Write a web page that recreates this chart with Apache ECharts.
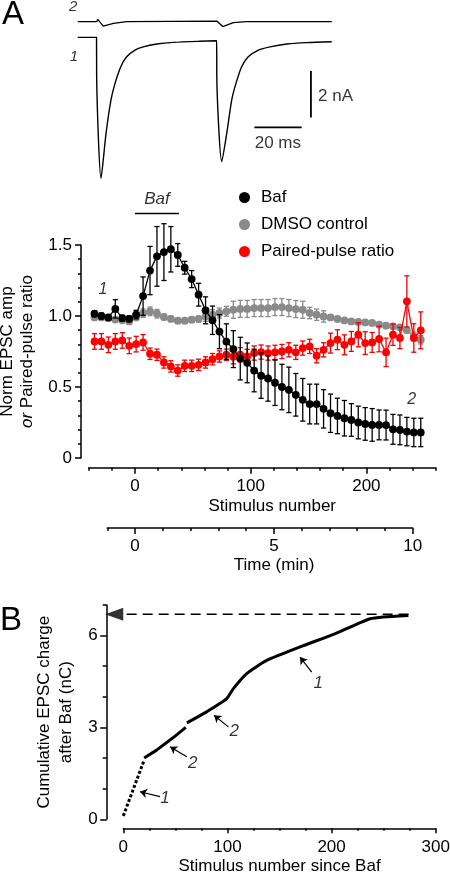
<!DOCTYPE html>
<html><head><meta charset="utf-8">
<script src="https://cdn.jsdelivr.net/npm/echarts@6/dist/echarts.min.js"></script>
<style>html,body{margin:0;padding:0;background:#fff}#c{width:450px;height:876px}</style>
</head><body><div id="c"></div>
<script>
// ---------- Panel A (middle): binned time course ----------
const stimulus = [-35,-29,-23,-17,-11,-5,1,7,13,19,25,31,37,43,49,55,61,67,73,79,85,91,97,103,109,115,121,127,133,139,145,151,157,163,169,175,181,187,193,199,205,211,217,223,229,235,241,247];
const bafMean = [1.016,1.00,0.99,1.05,0.985,0.98,1.01,1.14,1.32,1.42,1.45,1.47,1.43,1.34,1.26,1.15,1.04,0.97,0.89,0.82,0.767,0.70,0.67,0.616,0.58,0.56,0.53,0.50,0.48,0.445,0.41,0.38,0.38,0.346,0.315,0.296,0.28,0.268,0.25,0.24,0.233,0.233,0.232,0.202,0.198,0.186,0.18,0.18];
const bafErr = [0.02,0.02,0.02,0.065,0.02,0.02,0.03,0.135,0.17,0.21,0.2,0.16,0.08,0.045,0.06,0.08,0.095,0.1,0.12,0.125,0.13,0.15,0.14,0.15,0.16,0.16,0.16,0.16,0.16,0.15,0.15,0.14,0.14,0.135,0.135,0.125,0.125,0.115,0.115,0.115,0.115,0.105,0.105,0.105,0.105,0.1,0.1,0.1];
const dmsoMean = [0.99,0.99,0.985,0.975,0.97,0.962,0.99,1.02,1.033,1.016,0.993,0.98,0.967,0.967,0.974,0.979,0.997,1.009,1.021,1.033,1.044,1.05,1.05,1.056,1.056,1.056,1.063,1.063,1.056,1.049,1.044,1.021,1.009,0.997,0.99,0.979,0.969,0.962,0.958,0.955,0.951,0.939,0.932,0.927,0.92,0.90,0.856,0.833];
const dmsoErr = [0.015,0.015,0.015,0.015,0.015,0.015,0.015,0.03,0.03,0.03,0.02,0.02,0.02,0.02,0.02,0.02,0.035,0.035,0.035,0.035,0.06,0.06,0.06,0.06,0.06,0.06,0.06,0.06,0.06,0.06,0.06,0.04,0.04,0.04,0.015,0.015,0.015,0.015,0.015,0.015,0.015,0.015,0.015,0.015,0.015,0.015,0.03,0.03];
const pprMean = [0.821,0.821,0.797,0.821,0.828,0.79,0.802,0.814,0.734,0.727,0.673,0.645,0.616,0.649,0.649,0.656,0.673,0.696,0.715,0.727,0.713,0.727,0.715,0.739,0.746,0.739,0.744,0.75,0.762,0.744,0.774,0.786,0.72,0.762,0.809,0.833,0.797,0.821,0.868,0.809,0.814,0.838,0.744,0.868,0.845,1.103,0.845,0.899];
const pprErr = [0.055,0.055,0.055,0.055,0.055,0.055,0.055,0.055,0.04,0.04,0.04,0.04,0.04,0.04,0.04,0.04,0.04,0.04,0.04,0.04,0.05,0.05,0.05,0.05,0.05,0.05,0.05,0.05,0.05,0.05,0.05,0.05,0.05,0.05,0.07,0.07,0.07,0.07,0.085,0.08,0.07,0.09,0.1,0.075,0.075,0.18,0.1,0.13];
const legendNames = ['Baf','DMSO control','Paired-pulse ratio'];
const stimTicks = [0,100,200];
const timeTicks = [0,5,10];
const bafBar = [0,38];          // stimulus range of Baf application

// ---------- Panel A (top): example EPSC traces ----------
const traceT1 = [0,7.95,8.0,9.85,11.97,14.08,15.77,18.2,20.7,24.2,27.7,33.4,40.4,51.7,58.75,58.8,60.9,63.0,65.1,66.9,69.3,72.1,76.4,81.3,88.4,96.8,107.4];
const traceI1 = [0,0,-1.67,-6.09,-4.15,-2.69,-1.99,-1.27,-0.84,-0.55,-0.41,-0.29,-0.22,-0.17,-0.15,-1.70,-5.37,-4.15,-2.71,-1.99,-1.27,-0.84,-0.55,-0.41,-0.29,-0.23,-0.19];
const traceT2 = [0,8.0,8.45,10.8,15.1,20.7,58.8,59.0,61.3,65.8,71.4,107.4];
const traceI2 = [0,0,0.1,-0.19,-0.07,0,0.03,0.1,-0.21,-0.04,0,0];
const trace2Offset = 0.674;     // display offset of trace 2 (nA)
const scaleBarT = 98.6, scaleBarI = [-1.46,-3.46];   // 2 nA
const scaleBarTime = [74.7,94.7], scaleBarY = -3.89;  // 20 ms

// ---------- Panel B: cumulative charge ----------
const cumDottedX = [0,20];
const cumDottedY = [0.11,1.93];
const cumSeg1X = [20,32,48,60];
const cumSeg1Y = [2.0,2.26,2.67,3.0];
const cumSeg2X = [61,80,99,105.7,118.5,137.7,169.7,201.7,217.8,237,249.8,273.8];
const cumSeg2Y = [3.15,3.51,3.93,4.27,4.76,5.19,5.63,6.04,6.28,6.55,6.61,6.66];
const totalCharge = 6.7;
const totalArrowX = [274,-1];     // dashed arrow from curve end to y-axis
const arrowTails = [[35.3,0.74],[60.9,2.04],[100.9,3.02],[181,4.81]];
const arrowTips  = [[16,0.9],[44.9,2.37],[87.1,3.4],[169.7,5.3]];
const arrowLabels = ['1','2','2','1'];
const arrowLabelPos = [[40,0.68],[66.7,1.83],[106.6,2.86],[187.3,4.43]];

const FONT = '"Liberation Sans", Arial, sans-serif';
const FS = 17;
const BLACK = '#000', GRAY = '#8a8a8a', RED = '#ff0000';
const tickStyle = {color:BLACK, width:1.5};
const txt = {fontFamily:FONT, fontSize:FS, color:BLACK};

function zip(a,b){ return a.map((v,i)=>[v,b[i]]); }

function errSeries(name, means, errs, color, z){
  return {
    type:'custom', name, xAxisIndex:0, yAxisIndex:0, z, silent:true, clip:false,
    encode:{x:0,y:1},
    data: stimulus.map((s,i)=>[s, means[i], errs[i]]),
    renderItem(params, api){
      const x=api.value(0), y=api.value(1), e=api.value(2);
      const t=api.coord([x,y+e]), b=api.coord([x,y-e]);
      const hw=2.6, st={stroke:color, lineWidth:1.3};
      return {type:'group', children:[
        {type:'line', shape:{x1:t[0],y1:t[1],x2:b[0],y2:b[1]}, style:st},
        {type:'line', shape:{x1:t[0]-hw,y1:t[1],x2:t[0]+hw,y2:t[1]}, style:st},
        {type:'line', shape:{x1:b[0]-hw,y1:b[1],x2:b[0]+hw,y2:b[1]}, style:st}
      ]};
    }
  };
}
function meanSeries(name, means, color, z){
  return {type:'line', name, xAxisIndex:0, yAxisIndex:0, z,
    data: zip(stimulus, means), symbol:'circle', symbolSize:7.8,
    itemStyle:{color}, lineStyle:{color, width:1.3}, clip:false, silent:true};
}
function textSeries(xi, yi, items, style){
  return {type:'scatter', xAxisIndex:xi, yAxisIndex:yi, symbolSize:1, clip:false, silent:true,
    itemStyle:{color:'rgba(0,0,0,0)'},
    data: items.map(it=>({value:it.pos, label:Object.assign({show:true, position:'inside', formatter:it.text}, txt, style||{}, it.style||{})})),
    z:10};
}
const noBounds = {containLabel:false, outerBoundsMode:'none'};

const chart = echarts.init(document.getElementById('c'), null, {renderer:'canvas'});
const option = {
  animation:false,
  backgroundColor:'#fff',
  textStyle:{fontFamily:FONT},
  grid:[
    Object.assign({left:88.7, top:245, width:347.1, height:213}, noBounds),
    Object.assign({left:107.3, top:500, width:305.4, height:28}, noBounds),
    Object.assign({left:123.3, top:605, width:312.4, height:214.3}, noBounds),
    Object.assign({left:65.9, top:2.6, width:272, height:185.2}, noBounds)
  ],
  legend:{data:legendNames, orient:'vertical', left:239, top:189, icon:'circle',
    itemWidth:11, itemHeight:11, itemGap:10, padding:0,
    textStyle:Object.assign({}, txt, {padding:[0,0,0,6]})},
  xAxis:[
    {type:'value', gridIndex:0, min:-40, max:260, interval:20, position:'bottom', offset:9.7,
     axisLine:{onZero:false, lineStyle:tickStyle}, axisTick:{length:3, lineStyle:tickStyle}, axisLabel:{show:false}, splitLine:{show:false}},
    {type:'value', gridIndex:0, min:-40, max:260, position:'bottom', offset:9.7,
     axisLine:{show:false, onZero:false}, axisTick:{customValues:stimTicks, length:6, lineStyle:tickStyle},
     axisLabel:Object.assign({customValues:stimTicks, margin:10}, txt), splitLine:{show:false},
     name:'Stimulus number', nameLocation:'middle', nameGap:30, nameTextStyle:Object.assign({padding:[0,0,0,20]}, txt)},
    {type:'value', gridIndex:1, min:-1, max:10, interval:1, position:'bottom',
     axisLine:{onZero:false, lineStyle:tickStyle}, axisTick:{length:3, lineStyle:tickStyle}, axisLabel:{show:false}, splitLine:{show:false}},
    {type:'value', gridIndex:1, min:-1, max:10, position:'bottom',
     axisLine:{show:false, onZero:false}, axisTick:{customValues:timeTicks, length:6, lineStyle:tickStyle},
     axisLabel:Object.assign({customValues:timeTicks, margin:10}, txt), splitLine:{show:false},
     name:'Time (min)', nameLocation:'middle', nameGap:29, nameTextStyle:Object.assign({padding:[0,0,0,28]}, txt)},
    {type:'value', gridIndex:2, min:0, max:300, interval:100, position:'bottom', offset:9,
     axisLine:{onZero:false, lineStyle:tickStyle}, axisTick:{length:5, lineStyle:tickStyle},
     minorTick:{show:true, splitNumber:4, length:2.5, lineStyle:tickStyle},
     axisLabel:Object.assign({margin:11}, txt), splitLine:{show:false},
     name:'Stimulus number since Baf', nameLocation:'middle', nameGap:30, nameTextStyle:txt},
    {type:'value', gridIndex:3, min:-5, max:110, show:false}
  ],
  yAxis:[
    {type:'value', gridIndex:0, min:0, max:1.5, interval:0.5, position:'left', offset:7.7,
     axisLine:{show:true, onZero:false, lineStyle:tickStyle}, axisTick:{show:true, length:6, lineStyle:tickStyle},
     minorTick:{show:true, splitNumber:5, length:3, lineStyle:tickStyle},
     axisLabel:Object.assign({margin:9, formatter:v=>v===0?'0':v.toFixed(1)}, txt), splitLine:{show:false},
     name:'Norm EPSC amp\n{i|or} Paired-pulse ratio', nameLocation:'middle', nameGap:39,
     nameTextStyle:Object.assign({lineHeight:20, rich:{i:Object.assign({fontStyle:'italic', lineHeight:20}, txt)}}, txt)},
    {type:'value', gridIndex:1, min:0, max:1, show:false},
    {type:'value', gridIndex:2, min:0, max:7, interval:1, position:'left', offset:16.6,
     axisLine:{show:true, onZero:false, lineStyle:tickStyle}, axisTick:{show:true, length:4, lineStyle:tickStyle},
     axisLabel:{show:false}, splitLine:{show:false}},
    {type:'value', gridIndex:2, min:0, max:7, position:'left', offset:16.6,
     axisLine:{show:false, onZero:false}, axisTick:{show:true, customValues:[0,3,6], length:6.5, lineStyle:tickStyle},
     axisLabel:Object.assign({customValues:[0,3,6], margin:9}, txt), splitLine:{show:false},
     name:'Cumulative EPSC charge\nafter Baf (nC)', nameLocation:'middle', nameGap:20,
     nameTextStyle:Object.assign({lineHeight:22}, txt)},
    {type:'value', gridIndex:3, min:-6.5, max:1.5, show:false}
  ],
  graphic:[
    {type:'text', x:2, y:15, style:{text:'A', fontSize:33, fontFamily:FONT, fill:BLACK, textVerticalAlign:'middle'}},
    {type:'text', x:0, y:620.5, style:{text:'B', fontSize:33, fontFamily:FONT, fill:BLACK, textVerticalAlign:'middle'}}
  ],
  series:[
    errSeries('dmsoErr', dmsoMean, dmsoErr, GRAY, 2),
    meanSeries('DMSO control', dmsoMean, GRAY, 3),
    errSeries('pprErr', pprMean, pprErr, '#ee0000', 4),
    meanSeries('Paired-pulse ratio', pprMean, RED, 5),
    errSeries('bafErr', bafMean, bafErr, BLACK, 6),
    meanSeries('Baf', bafMean, BLACK, 7),
    {type:'line', xAxisIndex:0, yAxisIndex:0, data:[[bafBar[0],1.722],[bafBar[1],1.722]], symbol:'none',
     lineStyle:{color:BLACK, width:1.5}, clip:false, silent:true},
    textSeries(0,0,[
      {pos:[(bafBar[0]+bafBar[1])/2, 1.82], text:'Baf', style:{fontStyle:'italic'}},
      {pos:[-27.7,1.186], text:'1', style:{fontStyle:'italic', fontSize:16}},
      {pos:[239.2,0.409], text:'2', style:{fontStyle:'italic', fontSize:16}}
    ]),
    // traces
    {type:'line', xAxisIndex:5, yAxisIndex:4, data:zip(traceT1, traceI1), symbol:'none', smooth:0.25,
     lineStyle:{color:BLACK, width:1.4}, silent:true, clip:false},
    {type:'line', xAxisIndex:5, yAxisIndex:4, data:traceT2.map((t,i)=>[t, traceI2[i]+trace2Offset]), symbol:'none',
     lineStyle:{color:BLACK, width:1.3}, silent:true, clip:false},
    {type:'line', xAxisIndex:5, yAxisIndex:4, data:[[scaleBarT,scaleBarI[0]],[scaleBarT,scaleBarI[1]]], symbol:'none',
     lineStyle:{color:BLACK, width:1.8}, silent:true, clip:false},
    {type:'line', xAxisIndex:5, yAxisIndex:4, data:[[scaleBarTime[0],scaleBarY],[scaleBarTime[1],scaleBarY]], symbol:'none',
     lineStyle:{color:BLACK, width:1.8}, silent:true, clip:false},
    textSeries(5,4,[
      {pos:[101.6,-2.54], text:'2 nA', style:{align:'left'}},
      {pos:[84.6,-4.57], text:'20 ms'},
      {pos:[-1.6,-0.86], text:'1', style:{fontStyle:'italic', fontSize:15}},
      {pos:[-1.9,1.3], text:'2', style:{fontStyle:'italic', fontSize:15}}
    ]),
    // panel B
    {type:'line', xAxisIndex:4, yAxisIndex:2, data:zip(cumDottedX, cumDottedY), symbol:'none',
     lineStyle:{color:BLACK, width:3, type:[3,2], cap:'butt'}, silent:true},
    {type:'line', xAxisIndex:4, yAxisIndex:2, data:zip(cumSeg1X, cumSeg1Y), symbol:'none',
     lineStyle:{color:BLACK, width:3}, silent:true,
     markLine:{silent:true, symbol:['none','arrow'], symbolSize:7, label:{show:false},
       lineStyle:{color:BLACK, width:1.2, type:'solid'},
       data: arrowTails.map((t,i)=>[{coord:t},{coord:arrowTips[i]}])}},
    {type:'line', xAxisIndex:4, yAxisIndex:2, data:zip(cumSeg2X, cumSeg2Y), symbol:'none', smooth:0.2,
     lineStyle:{color:BLACK, width:3}, silent:true},
    {type:'line', xAxisIndex:4, yAxisIndex:2, data:totalArrowX.map(x=>[x,totalCharge]), symbol:'none',
     lineStyle:{color:BLACK, width:1.5, type:[10,6]}, silent:true, clip:false},
    {type:'scatter', xAxisIndex:4, yAxisIndex:2, data:[[totalArrowX[1],totalCharge]], symbol:'triangle',
     symbolSize:[13,18], symbolRotate:90, symbolOffset:[-8,0], itemStyle:{color:BLACK}, silent:true, clip:false},
    textSeries(4,2, arrowLabels.map((t,i)=>({pos:arrowLabelPos[i], text:t, style:{fontStyle:'italic'}})))
  ]
};
chart.setOption(option);
</script>
</body></html>
